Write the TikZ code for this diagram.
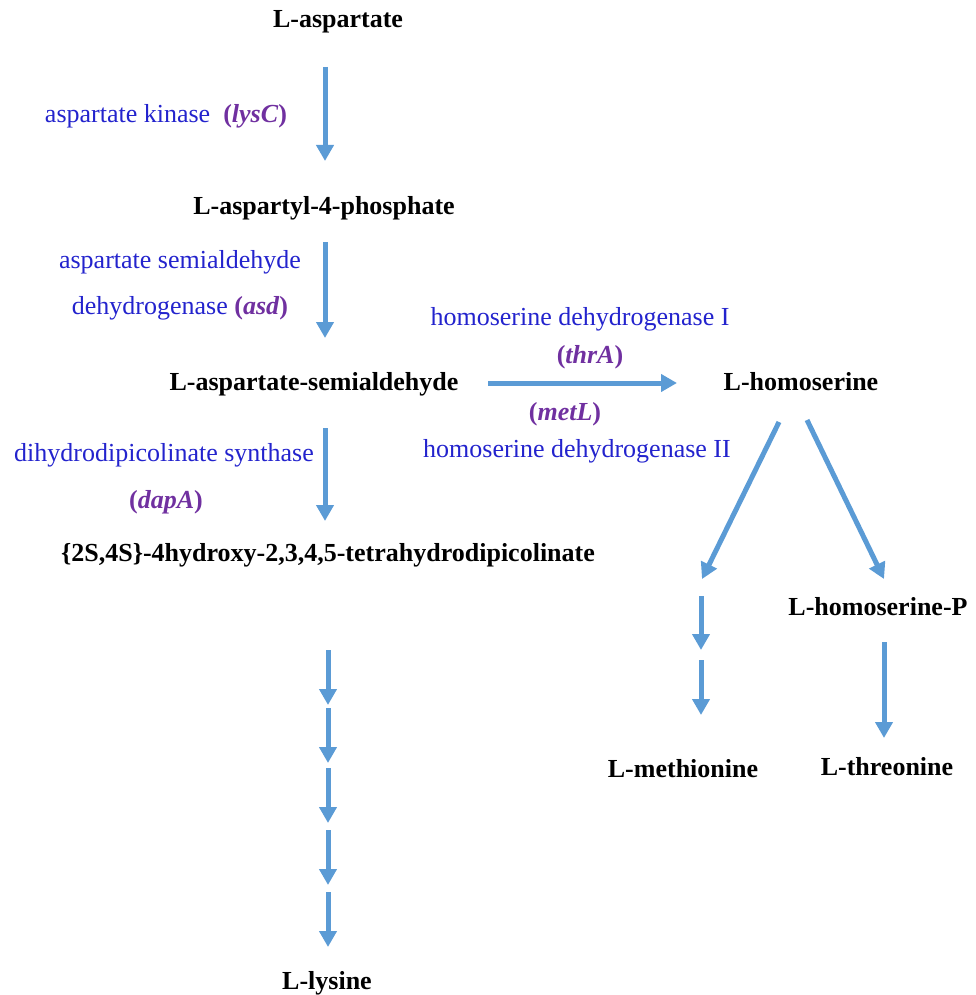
\documentclass[tikz,border=0pt]{standalone}
\usepackage{fontspec}
\setmainfont{Liberation Serif}
\usetikzlibrary{arrows.meta}
\definecolor{arrowblue}{RGB}{91,155,213}
\definecolor{enzblue}{RGB}{35,35,205}
\definecolor{genepurple}{RGB}{112,48,160}
\newcommand{\gene}[1]{{\color{genepurple}\bfseries(\textit{#1})}}
\tikzset{
  metab/.style={anchor=base, inner sep=0pt, font=\fontsize{26}{31}\selectfont\bfseries},
  enz/.style={anchor=base, inner sep=0pt, text=enzblue, font=\fontsize{26}{31}\selectfont},
  flow/.style={draw=arrowblue, line width=5pt, -{Triangle[width=17pt,length=16pt]}},
}
\begin{document}
\begin{tikzpicture}[x=1pt,y=-1pt]
\useasboundingbox (0,0) rectangle (975,995);
% metabolites
\node[metab] (asp) at (338,28) {L-aspartate};
\node[metab] (aspp) at (324,214) {L-aspartyl-4-phosphate};
\node[metab] (asa) at (314,390) {L-aspartate-semialdehyde};
\node[metab] (hom) at (801,390) {L-homoserine};
\node[metab] (thdp) at (328,561) {\{2S,4S\}-4hydroxy-2,3,4,5-tetrahydrodipicolinate};
\node[metab] (homp) at (878,615) {L-homoserine-P};
\node[metab] (met) at (683,777) {L-methionine};
\node[metab] (thr) at (887,775) {L-threonine};
\node[metab] (lys) at (327,989) {L-lysine};
% enzymes
\node[enz] (e1) at (166,123) {aspartate kinase\ \ \gene{lysC}};
\node[enz] (e2a) at (180,268) {aspartate semialdehyde};
\node[enz] (e2b) at (180,314) {dehydrogenase \gene{asd}};
\node[enz] (e3a) at (580,325) {homoserine dehydrogenase I};
\node[enz] (e3b) at (590,363) {\gene{thrA}};
\node[enz] (e3c) at (565,420) {\gene{metL}};
\node[enz] (e3d) at (577,457) {homoserine dehydrogenase II};
\node[enz] (e4a) at (164,461) {dihydrodipicolinate synthase};
\node[enz] (e4b) at (166,508) {\gene{dapA}};
% arrow anchor points
\coordinate (a1s) at (325,67);  \coordinate (a1e) at (325,161);
\coordinate (a2s) at (325,242); \coordinate (a2e) at (325,338);
\coordinate (ahs) at (488,383); \coordinate (ahe) at (677,383);
\coordinate (a3s) at (325,428); \coordinate (a3e) at (325,521);
\coordinate (dls) at (779,422); \coordinate (dle) at (702,579);
\coordinate (drs) at (807,420); \coordinate (dre) at (884,579);
\coordinate (m1s) at (701,596); \coordinate (m1e) at (701,650);
\coordinate (m2s) at (701,660); \coordinate (m2e) at (701,715);
\coordinate (t1s) at (884,642); \coordinate (t1e) at (884,738);
\coordinate (l1s) at (328,650); \coordinate (l1e) at (328,705);
\coordinate (l2s) at (328,708); \coordinate (l2e) at (328,763);
\coordinate (l3s) at (328,768); \coordinate (l3e) at (328,823);
\coordinate (l4s) at (328,830); \coordinate (l4e) at (328,885);
\coordinate (l5s) at (328,892); \coordinate (l5e) at (328,947);
% arrows
\draw[flow] (a1s) -- (a1e);
\draw[flow] (a2s) -- (a2e);
\draw[flow] (ahs) -- (ahe);
\draw[flow] (a3s) -- (a3e);
\draw[flow] (dls) -- (dle);
\draw[flow] (drs) -- (dre);
\draw[flow] (m1s) -- (m1e);
\draw[flow] (m2s) -- (m2e);
\draw[flow] (t1s) -- (t1e);
\draw[flow] (l1s) -- (l1e);
\draw[flow] (l2s) -- (l2e);
\draw[flow] (l3s) -- (l3e);
\draw[flow] (l4s) -- (l4e);
\draw[flow] (l5s) -- (l5e);
\end{tikzpicture}
\end{document}
